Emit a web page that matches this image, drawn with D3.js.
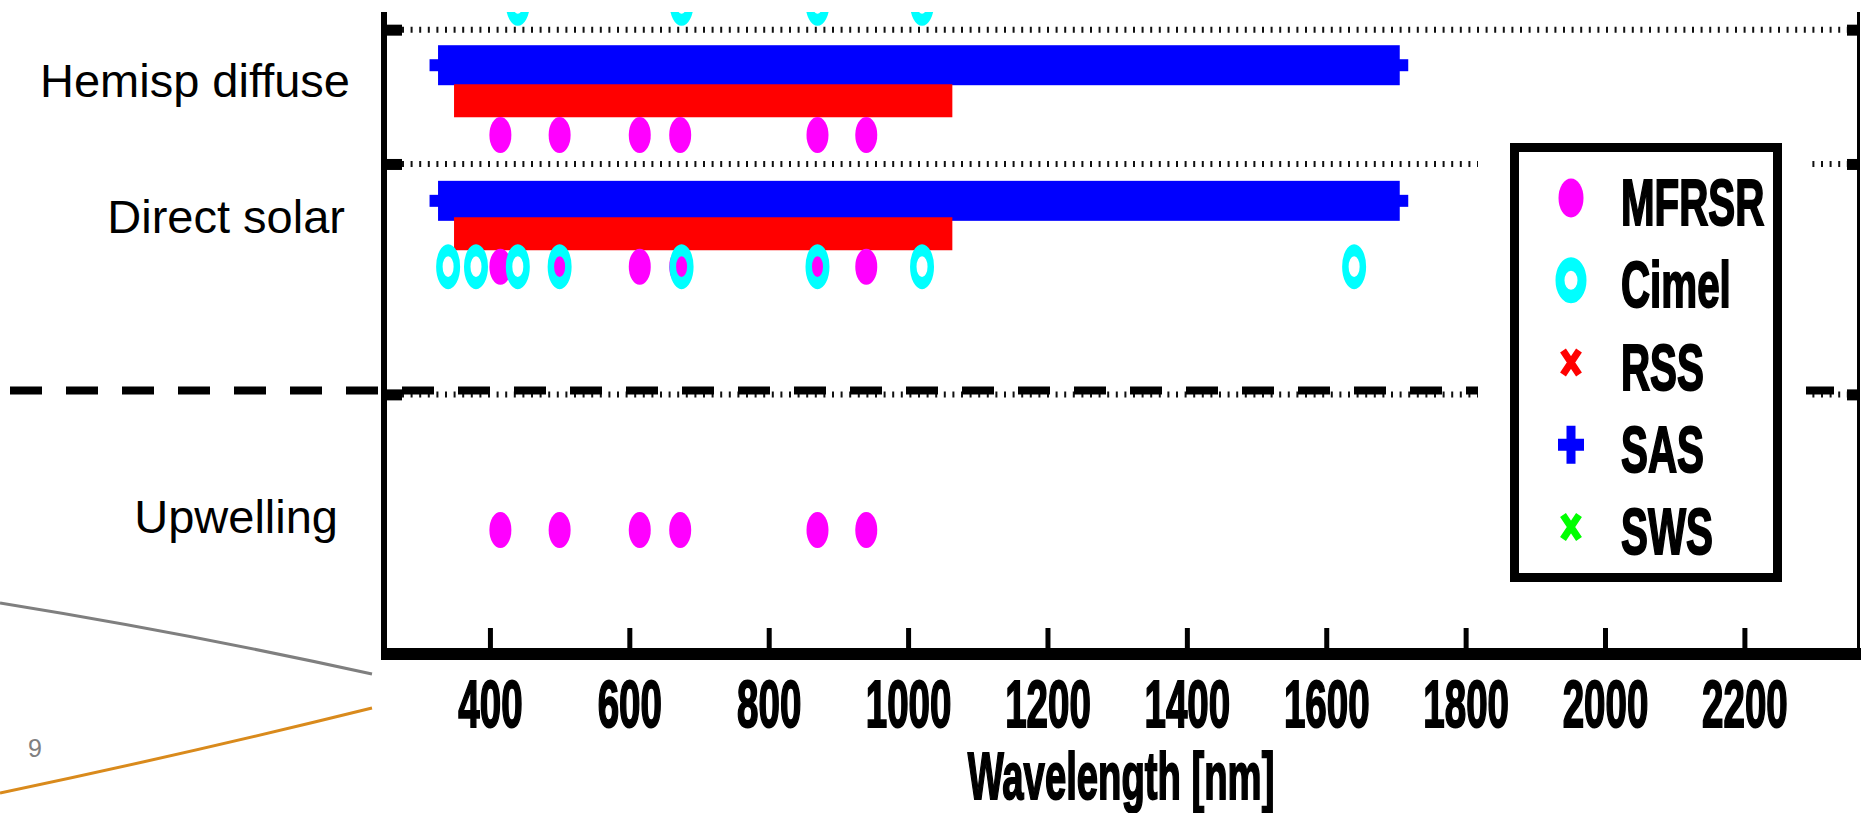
<!DOCTYPE html>
<html>
<head>
<meta charset="utf-8">
<script src="https://cdn.jsdelivr.net/npm/d3@7"></script>
<style>
  html, body { margin: 0; padding: 0; background: #ffffff; }
  svg { display: block; }
</style>
</head>
<body>
<svg id="chart"></svg>
<script>
const WIDTH = 1861,
    HEIGHT = 813;

// data
const xTicks = [400, 600, 800, 1000, 1200, 1400, 1600, 1800, 2000, 2200];
const rowNames = ['Upwelling', 'Direct solar', 'Hemisp diffuse'];
const rowValues = [1, 3, 4];
const mfrsrWavelengths = [415, 500, 615, 673, 870, 940];
const mfrsrRows = [1, 3, 4];
const cimelWavelengths = [340, 380, 440, 500, 675, 870, 1020, 1640];
const cimelRows = [3];
const cimelSkyWavelengths = [440, 675, 870, 1020];
const cimelSkyRows = [5];
const rssRange = [365, 1047];
const rssRows = [3.25, 4.26];
const sasRange = [332, 1699];
const sasRows = [3.5, 4.53];
const gridValues = [2.03, 3.78, 4.8];
const separatorValue = 2.06;
const legendNames = ['MFRSR', 'Cimel', 'RSS', 'SAS', 'SWS'];

// styles / layout
const colors = {
    MFRSR: '#ff00ff',
    Cimel: '#00ffff',
    RSS: '#ff0000',
    SAS: '#0000ff',
    SWS: '#00ff00'
};
const labelRight = [338, 345, 350];
const labelBaseline = [533, 233, 97];
const plot = { left: 387, right: 1857, top: 12, bottom: 648 };

const x = d3.scaleLinear().domain([248, 2363]).range([384, 1858]);
const y = d3.scaleLinear().domain([1, 4]).range([530, 135]);

const svg = d3.select('svg#chart')
    .attr('width', WIDTH)
    .attr('height', HEIGHT);

svg.append('rect')
    .attr('width', WIDTH)
    .attr('height', HEIGHT)
    .attr('fill', '#ffffff');

// slide decoration behind the chart
svg.append('path')
    .attr('d', 'M0,603 Q186,633 372,674')
    .attr('fill', 'none')
    .attr('stroke', '#7f7f7f')
    .attr('stroke-width', 3);

svg.append('path')
    .attr('d', 'M0,793 Q186,754 372,708')
    .attr('fill', 'none')
    .attr('stroke', '#d98a1c')
    .attr('stroke-width', 3);

svg.append('text')
    .attr('x', 28)
    .attr('y', 757)
    .attr('font-family', 'Liberation Sans, Arial, sans-serif')
    .attr('font-size', 25)
    .attr('fill', '#808080')
    .text('9');

// row labels (slide text)
svg.append('g')
    .selectAll('text')
    .data(rowNames)
    .enter().append('text')
        .attr('x', (d, i) => labelRight[i])
        .attr('y', (d, i) => labelBaseline[i])
        .attr('text-anchor', 'end')
        .attr('font-family', 'Liberation Sans, Arial, sans-serif')
        .attr('font-size', 47)
        .attr('fill', '#000000')
        .text(d => d);

svg.append('defs').append('clipPath')
    .attr('id', 'plotClip')
    .append('rect')
        .attr('x', plot.left)
        .attr('y', plot.top)
        .attr('width', plot.right - plot.left)
        .attr('height', plot.bottom - plot.top);

// dotted grid lines
svg.append('g')
    .attr('class', 'grid')
    .selectAll('line')
    .data(gridValues)
    .enter().append('line')
        .attr('x1', 402)
        .attr('x2', 1848)
        .attr('y1', d => y(d))
        .attr('y2', d => y(d))
        .attr('stroke', '#111111')
        .attr('stroke-width', 6)
        .attr('stroke-dasharray', '2 6.6');

// dashed separator across the slide
svg.append('line')
    .attr('x1', 10)
    .attr('x2', 1857)
    .attr('y1', y(separatorValue))
    .attr('y2', y(separatorValue))
    .attr('stroke', '#000000')
    .attr('stroke-width', 8)
    .attr('stroke-dasharray', '32 24');

const marks = svg.append('g')
    .attr('clip-path', 'url(#plotClip)');

// SAS coverage: dense '+' markers merged into a bar
const sas = marks.append('g').attr('class', 'sas');
sas.selectAll('rect.body')
    .data(sasRows)
    .enter().append('rect')
        .attr('class', 'body')
        .attr('x', x(sasRange[0]) - 4.5)
        .attr('width', x(sasRange[1]) - x(sasRange[0]) + 9)
        .attr('y', d => y(d) - 20)
        .attr('height', 40)
        .attr('fill', colors.SAS);
sas.selectAll('rect.arm')
    .data(sasRows)
    .enter().append('rect')
        .attr('class', 'arm')
        .attr('x', x(sasRange[0]) - 13)
        .attr('width', x(sasRange[1]) - x(sasRange[0]) + 26)
        .attr('y', d => y(d) - 6)
        .attr('height', 12)
        .attr('fill', colors.SAS);

// RSS coverage: dense 'x' markers merged into a bar
marks.append('g')
    .attr('class', 'rss')
    .selectAll('rect')
    .data(rssRows)
    .enter().append('rect')
        .attr('x', x(rssRange[0]) - 11.5)
        .attr('width', x(rssRange[1]) - x(rssRange[0]) + 23)
        .attr('y', d => y(d) - 16.5)
        .attr('height', 33)
        .attr('fill', colors.RSS);

// MFRSR filled ellipses
const mfrsrPoints = d3.cross(mfrsrRows, mfrsrWavelengths);
marks.append('g')
    .attr('class', 'mfrsr')
    .selectAll('ellipse')
    .data(mfrsrPoints)
    .enter().append('ellipse')
        .attr('cx', d => x(d[1]))
        .attr('cy', d => y(d[0]))
        .attr('rx', 11)
        .attr('ry', 18)
        .attr('fill', colors.MFRSR);

// Cimel rings (stretched vertically like the source image)
const cimelPoints = d3.cross(cimelRows, cimelWavelengths)
    .concat(d3.cross(cimelSkyRows, cimelSkyWavelengths));
marks.append('g')
    .attr('class', 'cimel')
    .selectAll('g')
    .data(cimelPoints)
    .enter().append('g')
        .attr('transform', d => `translate(${x(d[1])},${y(d[0])}) scale(1,1.875)`)
        .append('circle')
            .attr('r', 8.75)
            .attr('fill', 'none')
            .attr('stroke', colors.Cimel)
            .attr('stroke-width', 6.5);

// spines
svg.append('rect')
    .attr('x', 381)
    .attr('y', 12)
    .attr('width', 6)
    .attr('height', 648)
    .attr('fill', '#000000');

svg.append('rect')
    .attr('x', 381)
    .attr('y', 648)
    .attr('width', WIDTH - 381)
    .attr('height', 12)
    .attr('fill', '#000000');

svg.append('rect')
    .attr('x', 1857)
    .attr('y', 12)
    .attr('width', 3)
    .attr('height', 640)
    .attr('fill', '#000000');

// x axis
const xAxis = svg.append('g')
    .attr('transform', `translate(0,${plot.bottom})`)
    .call(d3.axisBottom(x).tickValues(xTicks).tickSize(-20).tickFormat(d3.format('d')));
xAxis.select('.domain').remove();
xAxis.selectAll('.tick line')
    .attr('stroke', '#000000')
    .attr('stroke-width', 5);
xAxis.selectAll('.tick text')
    .attr('y', null)
    .attr('dy', null)
    .attr('transform', 'translate(0,79) scale(0.575,1)')
    .attr('fill', '#000000')
    .attr('stroke', '#000000')
    .attr('stroke-width', 2)
    .attr('font-family', 'Liberation Sans, Arial, sans-serif')
    .attr('font-weight', 'bold')
    .attr('font-size', 67);

svg.append('text')
    .attr('transform', `translate(${(x.range()[0] + x.range()[1]) / 2},799) scale(0.571,1)`)
    .attr('text-anchor', 'middle')
    .attr('font-family', 'Liberation Sans, Arial, sans-serif')
    .attr('font-weight', 'bold')
    .attr('font-size', 67)
    .attr('fill', '#000000')
    .attr('stroke', '#000000')
    .attr('stroke-width', 2)
    .text('Wavelength [nm]');

// y ticks, left and right, no labels
const yLeft = svg.append('g')
    .attr('transform', `translate(${plot.left},0)`)
    .call(d3.axisLeft(y).tickValues(gridValues).tickSize(-15).tickFormat(''));
yLeft.select('.domain').remove();
yLeft.selectAll('.tick line')
    .attr('stroke', '#000000')
    .attr('stroke-width', 11);

const yRight = svg.append('g')
    .attr('transform', `translate(${plot.right},0)`)
    .call(d3.axisRight(y).tickValues(gridValues).tickSize(-10).tickFormat(''));
yRight.select('.domain').remove();
yRight.selectAll('.tick line')
    .attr('stroke', '#000000')
    .attr('stroke-width', 11);

// legend
svg.append('rect')
    .attr('x', 1478)
    .attr('y', 120)
    .attr('width', 328)
    .attr('height', 490)
    .attr('fill', '#ffffff');

svg.append('rect')
    .attr('x', 1514.5)
    .attr('y', 147.5)
    .attr('width', 263)
    .attr('height', 430)
    .attr('fill', 'none')
    .attr('stroke', '#000000')
    .attr('stroke-width', 9);

const legendItem = svg.append('g')
    .attr('class', 'legend')
    .selectAll('g')
    .data(legendNames)
    .enter().append('g')
        .attr('transform', (d, i) => `translate(1571,${198 + i * 82.25})`);

legendItem.each(function(name) {
    const g = d3.select(this);
    if (name === 'MFRSR') {
        g.append('ellipse')
            .attr('rx', 12.5)
            .attr('ry', 19.5)
            .attr('fill', colors.MFRSR);
    } else if (name === 'Cimel') {
        g.append('g')
            .attr('transform', 'scale(1,1.48)')
            .append('circle')
                .attr('r', 11)
                .attr('fill', 'none')
                .attr('stroke', colors.Cimel)
                .attr('stroke-width', 9);
    } else if (name === 'SAS') {
        g.append('rect')
            .attr('x', -13).attr('y', -6)
            .attr('width', 26).attr('height', 12)
            .attr('fill', colors.SAS);
        g.append('rect')
            .attr('x', -4.5).attr('y', -19)
            .attr('width', 9).attr('height', 38)
            .attr('fill', colors.SAS);
    } else {
        g.append('path')
            .attr('d', 'M-8,-12L8,12M-8,12L8,-12')
            .attr('fill', 'none')
            .attr('stroke', colors[name])
            .attr('stroke-width', 7);
    }
});

legendItem.append('text')
    .attr('transform', 'translate(50,27) scale(0.63,1)')
    .attr('font-family', 'Liberation Sans, Arial, sans-serif')
    .attr('font-weight', 'bold')
    .attr('font-size', 64)
    .attr('fill', '#000000')
    .attr('stroke', '#000000')
    .attr('stroke-width', 2)
    .text(d => d);
</script>
</body>
</html>
